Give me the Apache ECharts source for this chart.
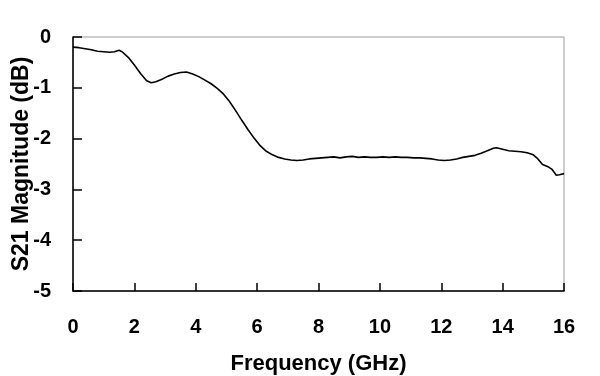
<!DOCTYPE html>
<html>
<head>
<meta charset="utf-8">
<script src="https://cdn.jsdelivr.net/npm/echarts@6/dist/echarts.min.js"></script>
<style>
  html, body { margin: 0; padding: 0; background: #fff; }
  #chart { width: 600px; height: 376px; }
</style>
</head>
<body>
<div id="chart"></div>
<script>
// S21 response
const freqGHz = [
  0.0, 0.2, 0.4, 0.6, 0.8, 1.0, 1.2, 1.35, 1.5, 1.6, 1.8, 2.0, 2.2, 2.4, 2.55, 2.7, 2.9,
  3.1, 3.3, 3.5, 3.7, 3.9, 4.1, 4.3, 4.5, 4.7, 4.9, 5.1, 5.3, 5.5, 5.7, 5.9,
  6.1, 6.3, 6.5, 6.7, 6.9, 7.1, 7.3, 7.5, 7.7, 7.9, 8.1, 8.3, 8.5, 8.7, 8.9,
  9.1, 9.3, 9.5, 9.7, 9.9, 10.1, 10.3, 10.5, 10.7, 10.9, 11.1, 11.3, 11.5, 11.7, 11.9,
  12.1, 12.3, 12.5, 12.7, 12.9, 13.1, 13.3, 13.5, 13.7, 13.8, 14.0, 14.2, 14.4, 14.6, 14.8,
  15.0, 15.15, 15.3, 15.5, 15.6, 15.75, 15.85, 16.0
];
const s21dB = [
  -0.20, -0.21, -0.23, -0.25, -0.28, -0.29, -0.30, -0.29, -0.26, -0.29, -0.40, -0.55, -0.72, -0.86, -0.90, -0.88, -0.83,
  -0.77, -0.73, -0.70, -0.69, -0.73, -0.78, -0.85, -0.92, -1.01, -1.12, -1.27, -1.45, -1.64, -1.82, -1.99,
  -2.14, -2.25, -2.32, -2.37, -2.40, -2.42, -2.43, -2.42, -2.40, -2.39, -2.38, -2.37, -2.36, -2.38, -2.36,
  -2.35, -2.37, -2.36, -2.37, -2.37, -2.36, -2.37, -2.36, -2.37, -2.37, -2.38, -2.38, -2.39, -2.40, -2.42,
  -2.43, -2.42, -2.40, -2.37, -2.35, -2.33, -2.29, -2.24, -2.19, -2.18, -2.21, -2.24, -2.25, -2.26, -2.28,
  -2.32, -2.40, -2.51, -2.56, -2.60, -2.72, -2.71, -2.69
];
const xTicks = [0, 2, 4, 6, 8, 10, 12, 14, 16];
const yTicks = [0, -1, -2, -3, -4, -5];

const font = 'Liberation Sans, Arial, sans-serif';
const chart = echarts.init(document.getElementById('chart'));

chart.setOption({
  animation: false,
  grid: {
    left: 73, right: 36, top: 37, bottom: 85,
    outerBoundsMode: 'none', containLabel: false,
    show: true, borderColor: '#9a9a9a', borderWidth: 1
  },
  xAxis: {
    type: 'value',
    min: xTicks[0], max: xTicks[xTicks.length - 1], interval: 2,
    name: 'Frequency (GHz)', nameLocation: 'middle', nameGap: 62, nameMoveOverlap: false,
    nameTextStyle: { fontFamily: font, fontWeight: 'bold', fontSize: 22, color: '#000' },
    axisLine: { onZero: false, lineStyle: { color: '#000', width: 1.5 } },
    axisTick: { inside: true, length: 8, lineStyle: { color: '#000', width: 1.5 } },
    axisLabel: { margin: 26, fontFamily: font, fontWeight: 'bold', fontSize: 20, color: '#000' },
    splitLine: { show: false }
  },
  yAxis: {
    type: 'value',
    min: yTicks[yTicks.length - 1], max: yTicks[0], interval: 1,
    name: 'S21 Magnitude (dB)', nameLocation: 'middle', nameGap: 40, nameMoveOverlap: false,
    nameTextStyle: { fontFamily: font, fontWeight: 'bold', fontSize: 23, color: '#000' },
    axisLine: { onZero: false, lineStyle: { color: '#000', width: 1.5 } },
    axisTick: { inside: true, length: 9, lineStyle: { color: '#000', width: 1.5 } },
    axisLabel: { margin: 22, fontFamily: font, fontWeight: 'bold', fontSize: 20, color: '#000' },
    splitLine: { show: false }
  },
  series: [{
    type: 'line',
    data: freqGHz.map((f, i) => [f, s21dB[i]]),
    showSymbol: false,
    lineStyle: { color: '#000', width: 1.6 }
  }]
});
</script>
</body>
</html>
